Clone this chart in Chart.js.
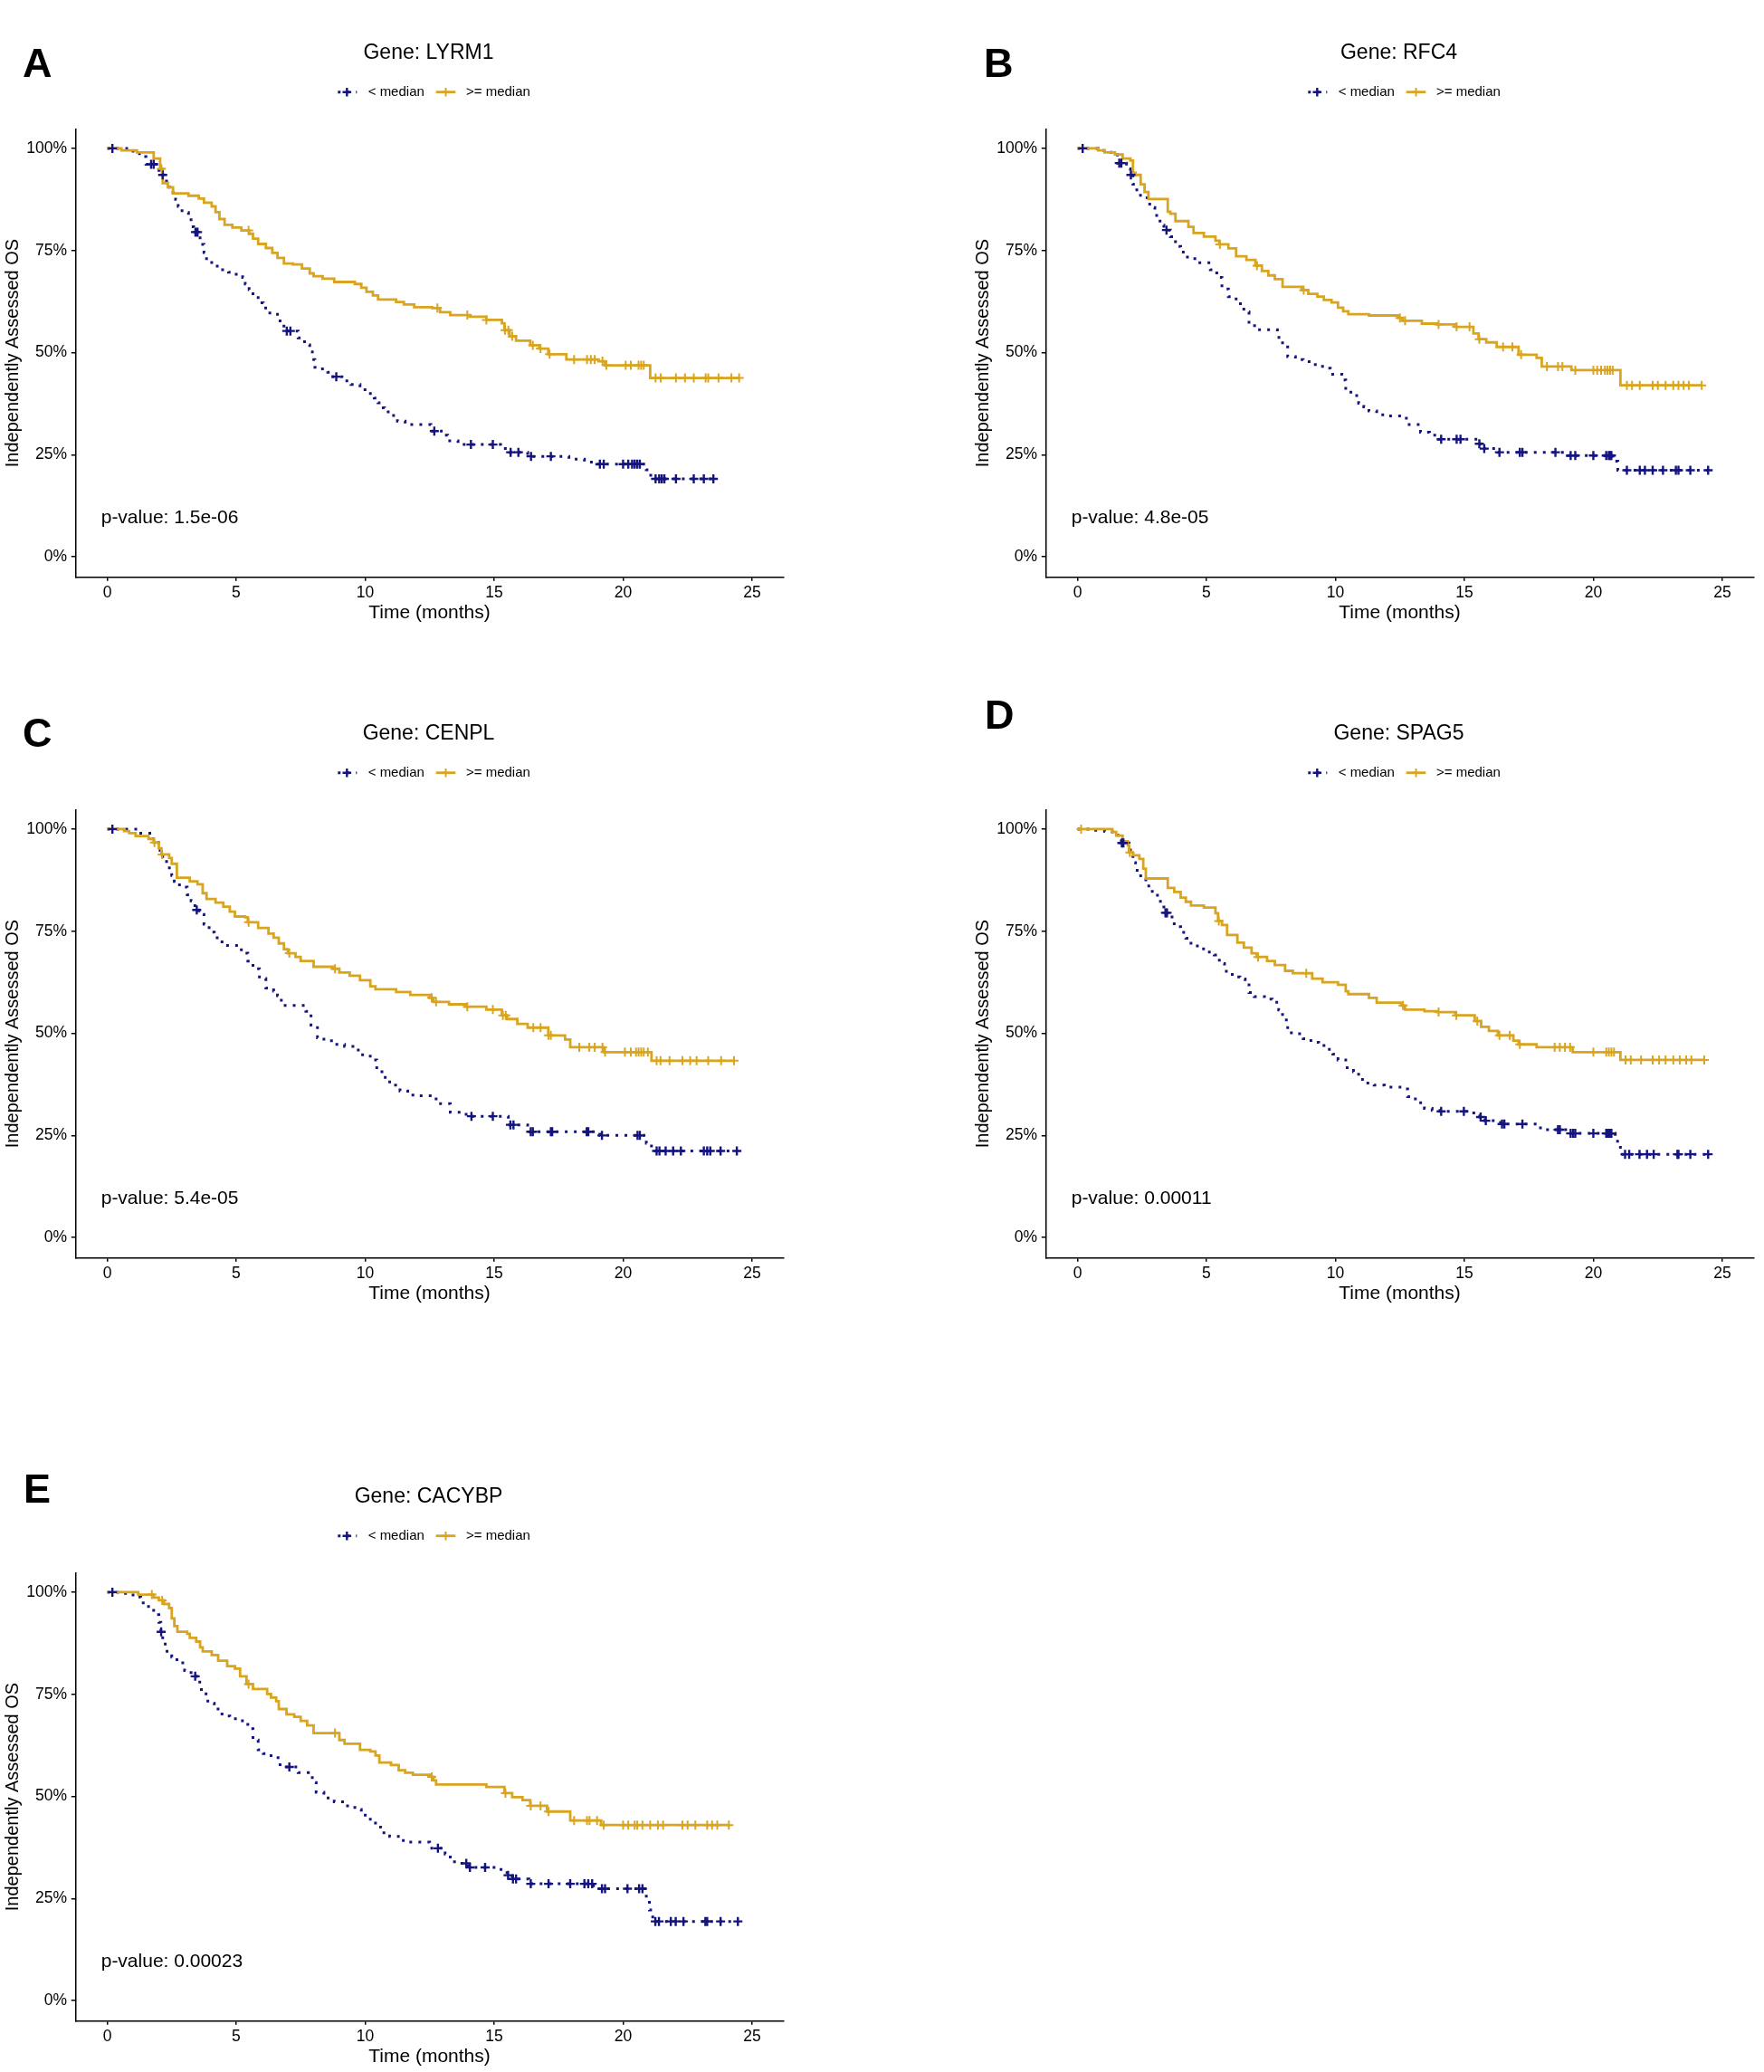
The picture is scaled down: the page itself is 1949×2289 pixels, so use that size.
<!DOCTYPE html>
<html>
<head>
<meta charset="utf-8">
<script src="https://cdn.jsdelivr.net/npm/chart.js@4.4.1/dist/chart.umd.min.js"></script>
<style>
  html, body { margin: 0; padding: 0; background: #ffffff; overflow: hidden; }
  #page { position: relative; width: 1949px; height: 2289px; background: #ffffff; }
  #page canvas { position: absolute; }
</style>
</head>
<body>
<div id="page"></div>
<script>
// ---------------- DATA ----------------
const genes = ["LYRM1", "RFC4", "CENPL", "SPAG5", "CACYBP"];
const pValues = ["1.5e-06", "4.8e-05", "5.4e-05", "0.00011", "0.00023"];
const panelLetters = ["A", "B", "C", "D", "E"];
const seriesLabels = ["< median", ">= median"];
const xTicks = [0, 5, 10, 15, 20, 25];
const yTicks = [0, 0.25, 0.5, 0.75, 1];
const xAxisTitle = "Time (months)";
const yAxisTitle = "Independently Assessed OS";

// LYRM1
const lyrm1LowTime = [0,1.0,1.35,1.5,1.95,2.05,2.2,2.3,2.55,2.65,2.75,2.9,3.15,3.25,3.35,3.6,3.75,3.85,4.05,4.35,4.7,5.0,5.25,5.35,5.5,5.65,5.85,6.05,6.25,6.6,6.7,6.85,7.4,7.65,7.85,7.95,8.05,8.2,8.55,8.75,9.1,9.45,9.8,10.1,10.35,10.5,10.6,10.75,11.0,11.25,11.55,12.55,12.95,13.2,13.6,15.25,15.6,16.3,17.9,18.5,19.0,20.9,21.0,21.15];
const lyrm1LowSurv = [1,0.987,0.98,0.961,0.946,0.935,0.92,0.905,0.892,0.875,0.858,0.843,0.83,0.808,0.795,0.765,0.745,0.725,0.712,0.703,0.697,0.692,0.684,0.668,0.654,0.64,0.622,0.609,0.597,0.588,0.569,0.553,0.536,0.519,0.502,0.483,0.464,0.46,0.452,0.441,0.431,0.422,0.409,0.4,0.389,0.377,0.365,0.355,0.346,0.332,0.324,0.308,0.298,0.284,0.275,0.265,0.256,0.246,0.239,0.232,0.227,0.213,0.2,0.191];
const lyrm1LowCensor = [0.2,1.7,1.8,2.15,3.42,3.5,6.96,7.1,8.88,12.68,14.1,14.95,15.64,15.94,16.43,17.2,19.1,19.25,20.0,20.2,20.35,20.45,20.55,20.65,21.26,21.4,21.5,21.6,22.05,22.74,23.13,23.5];
const lyrm1HighTime = [0,0.55,1.15,1.8,2.05,2.15,2.35,2.55,3.15,3.55,3.75,4.05,4.2,4.35,4.55,4.85,5.2,5.5,5.65,5.85,6.15,6.4,6.6,6.85,7.2,7.55,7.85,8.0,8.35,8.8,9.6,9.85,10.05,10.3,10.5,11.2,11.5,11.9,12.6,12.9,13.3,14.05,14.7,15.3,15.4,15.6,15.85,16.4,16.75,17.1,17.8,19.05,19.3,21.05];
const lyrm1HighSurv = [1,0.995,0.99,0.975,0.95,0.915,0.905,0.89,0.884,0.877,0.867,0.858,0.844,0.827,0.813,0.806,0.799,0.791,0.779,0.766,0.756,0.744,0.732,0.718,0.716,0.706,0.694,0.687,0.681,0.673,0.668,0.659,0.649,0.64,0.63,0.624,0.618,0.611,0.609,0.599,0.592,0.588,0.58,0.572,0.555,0.54,0.529,0.518,0.51,0.496,0.483,0.479,0.469,0.438];
const lyrm1HighCensor = [2.1,5.48,12.8,13.96,14.7,15.42,15.55,15.7,16.5,16.8,17.15,18.1,18.6,18.75,18.9,19.2,19.35,20.1,20.3,20.6,20.7,20.8,21.26,21.46,22.05,22.4,22.74,23.2,23.3,23.7,24.2,24.5];

// RFC4
const rfc4LowTime = [0,0.8,1.3,1.55,1.9,2.05,2.15,2.3,2.5,2.8,3.0,3.2,3.35,3.6,3.8,4.0,4.2,4.55,5.15,5.4,5.6,5.85,6.15,6.45,6.65,6.95,7.75,7.95,8.15,8.45,8.75,9.15,9.5,9.8,10.25,10.4,10.6,10.9,11.1,11.3,11.6,11.9,12.75,13.3,13.65,14.0,15.5,15.7,16.3,19.0,20.75,20.95];
const rfc4LowSurv = [1,0.995,0.985,0.964,0.95,0.935,0.912,0.885,0.879,0.855,0.836,0.812,0.8,0.784,0.76,0.746,0.734,0.72,0.703,0.684,0.656,0.637,0.62,0.6,0.566,0.556,0.537,0.514,0.49,0.483,0.478,0.471,0.462,0.447,0.433,0.409,0.395,0.376,0.367,0.357,0.348,0.345,0.324,0.305,0.298,0.288,0.277,0.265,0.256,0.248,0.234,0.212];
const rfc4LowCensor = [0.2,1.62,1.7,2.07,3.45,14.1,14.7,14.85,15.58,15.77,16.36,17.15,17.25,18.53,19.12,19.3,20.0,20.5,20.6,20.65,20.7,21.3,21.8,22.0,22.3,22.7,23.2,23.3,23.76,24.45];
const rfc4HighTime = [0,0.8,1.05,1.45,1.75,2.05,2.15,2.25,2.45,2.6,2.75,3.5,3.6,3.8,4.3,4.5,4.9,5.35,5.5,5.85,6.15,6.55,6.9,7.15,7.4,7.65,7.95,8.7,8.95,9.3,9.55,9.85,10.1,10.3,10.5,11.3,12.45,12.6,13.35,13.95,14.65,15.35,15.55,15.85,16.25,17.1,17.8,18.0,19.15,21.05];
const rfc4HighSurv = [1,0.995,0.99,0.985,0.975,0.97,0.94,0.935,0.912,0.893,0.876,0.845,0.84,0.822,0.808,0.793,0.784,0.774,0.765,0.755,0.736,0.727,0.713,0.7,0.689,0.68,0.661,0.653,0.644,0.637,0.629,0.623,0.61,0.601,0.594,0.591,0.585,0.578,0.571,0.569,0.563,0.547,0.533,0.525,0.514,0.495,0.487,0.466,0.457,0.42];
const rfc4HighCensor = [5.52,6.96,8.77,12.5,12.7,14.0,14.7,15.2,15.58,16.5,16.86,17.2,18.2,18.63,18.8,19.3,20.0,20.15,20.3,20.45,20.55,20.65,20.75,21.3,21.5,21.8,22.3,22.5,22.8,23.1,23.3,23.5,23.7,24.2];

// CENPL
const cenplLowTime = [0,1.2,1.65,1.85,2.05,2.15,2.3,2.5,2.6,2.8,3.1,3.25,3.4,3.55,3.75,3.95,4.15,4.45,5.2,5.45,5.65,5.9,6.15,6.45,6.6,6.75,7.7,7.9,8.15,8.4,8.8,9.2,9.6,9.9,10.3,10.45,10.65,10.95,11.35,11.65,12.05,12.75,13.3,13.7,14.0,15.55,16.3,19.1,20.9,21.1];
const cenplLowSurv = [1,0.99,0.976,0.967,0.948,0.929,0.905,0.886,0.872,0.858,0.839,0.824,0.802,0.791,0.767,0.748,0.734,0.715,0.696,0.677,0.658,0.634,0.611,0.603,0.592,0.568,0.554,0.52,0.489,0.482,0.473,0.468,0.459,0.444,0.435,0.411,0.392,0.373,0.359,0.349,0.347,0.328,0.307,0.302,0.297,0.276,0.259,0.25,0.231,0.212];
const cenplLowCensor = [0.2,3.47,14.12,14.95,15.63,15.75,16.42,16.5,17.2,17.25,18.59,18.65,19.18,20.56,20.65,21.3,21.41,21.65,21.94,22.24,23.13,23.26,23.38,23.78,24.41];
const cenplHighTime = [0,0.65,0.85,1.1,1.6,1.8,2.0,2.1,2.4,2.5,2.7,3.2,3.5,3.7,3.85,4.2,4.5,4.75,4.95,5.35,5.45,5.85,6.25,6.45,6.65,6.85,7.0,7.3,7.5,8.0,8.75,9.0,9.4,9.8,10.2,10.4,11.2,11.75,12.5,12.65,13.25,13.9,14.7,15.3,15.5,15.9,16.3,17.1,17.75,17.95,19.25,21.1];
const cenplHighSurv = [1,0.995,0.99,0.983,0.976,0.967,0.953,0.938,0.929,0.915,0.881,0.872,0.865,0.843,0.829,0.82,0.81,0.798,0.786,0.784,0.772,0.758,0.744,0.734,0.72,0.706,0.696,0.687,0.677,0.663,0.658,0.649,0.641,0.63,0.615,0.608,0.601,0.594,0.587,0.577,0.571,0.565,0.558,0.544,0.535,0.523,0.514,0.495,0.485,0.466,0.454,0.433];
const cenplHighCensor = [1.83,2.13,5.48,7.06,8.83,12.58,12.75,13.96,14.95,15.34,15.45,16.52,16.8,17.11,17.2,18.3,18.69,18.9,19.2,19.3,20.07,20.3,20.5,20.6,20.7,20.8,20.96,21.3,21.45,21.8,22.3,22.6,22.85,23.3,23.8,24.3];

// SPAG5
const spag5LowTime = [0,0.65,1.05,1.35,1.7,2.0,2.15,2.25,2.45,2.65,2.9,3.1,3.35,3.55,3.75,4.0,4.2,4.4,4.7,5.0,5.3,5.5,5.7,6.0,6.3,6.5,6.65,6.85,7.25,7.55,7.8,7.95,8.15,8.55,8.75,9.05,9.35,9.65,9.9,10.1,10.4,10.7,10.9,11.2,11.5,11.9,12.6,12.8,13.1,13.45,13.75,14.05,15.15,15.6,15.8,16.4,17.95,19.05,20.85,21.05];
const spag5LowSurv = [1,0.997,0.994,0.985,0.966,0.949,0.918,0.899,0.876,0.861,0.842,0.823,0.795,0.785,0.761,0.747,0.733,0.714,0.707,0.699,0.692,0.671,0.652,0.638,0.633,0.625,0.6,0.59,0.584,0.576,0.557,0.533,0.501,0.499,0.487,0.478,0.47,0.461,0.449,0.435,0.416,0.406,0.387,0.378,0.373,0.368,0.364,0.345,0.33,0.316,0.311,0.309,0.305,0.295,0.286,0.278,0.264,0.255,0.236,0.204];
const spag5LowCensor = [1.72,1.78,3.41,3.47,14.1,14.98,15.63,15.83,16.46,16.55,17.25,18.63,18.7,19.12,19.22,19.3,20.0,20.5,20.55,20.6,20.65,20.7,21.23,21.39,21.79,22.08,22.34,23.26,23.3,23.76,24.45];
const spag5HighTime = [0,1.35,1.5,1.75,1.95,2.0,2.15,2.4,2.55,2.65,3.5,3.75,4.0,4.2,4.4,4.9,5.35,5.45,5.6,5.8,6.2,6.45,6.75,6.95,7.35,7.65,8.05,8.35,9.1,9.5,10.1,10.4,10.5,11.3,11.6,12.55,12.7,13.45,13.95,14.65,15.4,15.65,15.95,16.3,16.9,17.1,17.8,19.2,21.05];
const spag5HighSurv = [1,0.993,0.984,0.97,0.96,0.943,0.936,0.927,0.903,0.879,0.856,0.846,0.832,0.822,0.813,0.808,0.794,0.775,0.765,0.741,0.722,0.71,0.696,0.687,0.677,0.667,0.653,0.647,0.634,0.625,0.619,0.603,0.596,0.587,0.575,0.568,0.558,0.554,0.552,0.544,0.53,0.516,0.506,0.495,0.482,0.473,0.466,0.454,0.435];
const spag5HighCensor = [0.14,2.03,5.48,7.0,8.87,12.62,14.0,14.69,15.5,16.36,16.76,17.15,18.5,18.7,18.9,19.1,20.0,20.5,20.6,20.7,20.8,21.25,21.45,21.85,22.3,22.55,22.8,23.1,23.35,23.6,23.8,24.3];

// CACYBP
const cacybpLowTime = [0,0.6,1.0,1.3,1.6,1.8,2.0,2.08,2.15,2.25,2.5,2.7,3.0,3.25,3.45,3.65,3.9,4.15,4.45,4.75,5.05,5.45,5.65,5.85,6.05,6.35,6.7,7.4,7.8,7.95,8.1,8.4,8.8,9.2,9.6,9.85,10.2,10.4,10.6,10.95,11.35,11.65,12.5,13.1,13.3,13.6,14.0,15.2,15.5,15.7,16.35,18.85,20.9,21.02,21.15];
const cacybpLowSurv = [1,0.997,0.988,0.974,0.959,0.945,0.926,0.903,0.879,0.855,0.841,0.827,0.808,0.794,0.78,0.751,0.728,0.714,0.697,0.69,0.685,0.666,0.638,0.614,0.605,0.595,0.572,0.558,0.553,0.534,0.51,0.496,0.487,0.477,0.468,0.454,0.444,0.425,0.411,0.402,0.392,0.388,0.373,0.359,0.34,0.336,0.326,0.321,0.307,0.298,0.286,0.274,0.25,0.222,0.194];
const cacybpLowCensor = [0.2,2.09,3.41,7.06,12.82,13.92,14.06,14.65,15.54,15.73,15.85,16.42,17.11,17.95,18.5,18.65,18.8,19.18,19.3,20.17,20.62,20.75,21.25,21.39,21.85,22.04,22.34,23.19,23.26,23.78,24.45];
const cacybpHighTime = [0,1.2,1.8,2.0,2.2,2.4,2.5,2.6,2.72,3.1,3.2,3.45,3.6,3.7,4.05,4.3,4.65,4.95,5.15,5.4,5.65,6.2,6.35,6.55,6.65,6.95,7.25,7.5,7.75,8.0,9.0,9.2,9.8,10.2,10.4,10.55,11.0,11.3,11.55,11.85,12.55,12.65,12.75,14.7,15.4,15.7,16.1,16.4,17.05,17.95,19.15];
const cacybpHighSurv = [1,0.994,0.987,0.98,0.971,0.961,0.936,0.917,0.903,0.898,0.888,0.879,0.865,0.855,0.846,0.832,0.819,0.813,0.794,0.775,0.763,0.751,0.742,0.733,0.714,0.701,0.695,0.685,0.674,0.655,0.638,0.629,0.614,0.61,0.6,0.583,0.577,0.564,0.558,0.553,0.548,0.539,0.529,0.523,0.508,0.498,0.491,0.477,0.463,0.441,0.43];
const cacybpHighCensor = [1.73,2.13,5.48,8.83,12.58,15.44,16.42,16.8,17.11,18.1,18.6,18.7,18.99,19.25,20.0,20.2,20.45,20.55,20.75,21.05,21.35,21.55,22.3,22.5,22.8,23.26,23.45,23.65,24.1];

const panelSeries = [
  { low: [lyrm1LowTime, lyrm1LowSurv, lyrm1LowCensor], high: [lyrm1HighTime, lyrm1HighSurv, lyrm1HighCensor] },
  { low: [rfc4LowTime, rfc4LowSurv, rfc4LowCensor], high: [rfc4HighTime, rfc4HighSurv, rfc4HighCensor] },
  { low: [cenplLowTime, cenplLowSurv, cenplLowCensor], high: [cenplHighTime, cenplHighSurv, cenplHighCensor] },
  { low: [spag5LowTime, spag5LowSurv, spag5LowCensor], high: [spag5HighTime, spag5HighSurv, spag5HighCensor] },
  { low: [cacybpLowTime, cacybpLowSurv, cacybpLowCensor], high: [cacybpHighTime, cacybpHighSurv, cacybpHighCensor] }
];

// ---------------- LAYOUT / STYLE ----------------
const FONT = '"Liberation Sans", Arial, Helvetica, sans-serif';
const LOW_COLOR = '#14147e';
const HIGH_COLOR = '#d9a521';
const CANVAS_W = 877, CANVAS_H = 694;
const panelOrigins = [[0, 0], [1072, 0], [0, 752], [1072, 752], [0, 1595]];
const letterPos = [[25, 85], [15, 85], [25, 73], [16, 53], [26, 65]];
const DOT_DASH = [3, 7];

function survAt(times, surv, t) {
  let s = surv[0];
  for (let i = 0; i < times.length; i++) { if (times[i] <= t) s = surv[i]; }
  return s;
}
function curvePoints(times, surv, censor) {
  const pts = times.map((t, i) => ({ x: t, y: surv[i] }));
  const lastT = Math.max(times[times.length - 1], ...censor);
  if (lastT > times[times.length - 1]) pts.push({ x: lastT, y: surv[surv.length - 1] });
  return pts;
}
function censorPoints(times, surv, censor) {
  return censor.map(c => ({ x: c, y: survAt(times, surv, c) }));
}

function drawCross(ctx, x, y, r, color, w) {
  ctx.save();
  ctx.strokeStyle = color; ctx.lineWidth = w; ctx.setLineDash([]);
  ctx.beginPath();
  ctx.moveTo(x - r, y); ctx.lineTo(x + r, y);
  ctx.moveTo(x, y - r); ctx.lineTo(x, y + r);
  ctx.stroke();
  ctx.restore();
}

const annotPlugin = {
  id: 'annot',
  afterDraw(chart, args, opts) {
    const { ctx, chartArea: a } = chart;
    ctx.save();
    ctx.fillStyle = '#000';
    // panel letter
    ctx.font = 'bold 45px ' + FONT;
    ctx.textAlign = 'left'; ctx.textBaseline = 'alphabetic';
    ctx.fillText(opts.letter, opts.letterX, opts.letterY);
    // title
    ctx.font = '23px ' + FONT;
    ctx.textAlign = 'center';
    ctx.fillText('Gene: ' + opts.gene, (a.left + a.right) / 2 - 1, a.top - 77.7);
    // legend
    const ly = a.top - 41;
    ctx.font = '15px ' + FONT;
    ctx.textAlign = 'left'; ctx.textBaseline = 'middle';
    let x = a.left + 289;
    ctx.save();
    ctx.strokeStyle = LOW_COLOR; ctx.lineWidth = 3; ctx.setLineDash(DOT_DASH); ctx.lineCap = 'butt';
    ctx.beginPath(); ctx.moveTo(x + 1, ly); ctx.lineTo(x + 22, ly); ctx.stroke();
    ctx.restore();
    drawCross(ctx, x + 11, ly, 4.8, LOW_COLOR, 2.4);
    ctx.fillText(seriesLabels[0], x + 34.4, ly + 0.5);
    x = a.left + 398.4;
    ctx.save();
    ctx.strokeStyle = HIGH_COLOR; ctx.lineWidth = 2.8; ctx.setLineDash([]);
    ctx.beginPath(); ctx.moveTo(x, ly); ctx.lineTo(x + 21.6, ly); ctx.stroke();
    ctx.restore();
    drawCross(ctx, x + 10.8, ly, 4.8, HIGH_COLOR, 2);
    ctx.fillStyle = '#000';
    ctx.fillText(seriesLabels[1], x + 33.3, ly + 0.5);
    // p-value
    ctx.font = '21px ' + FONT;
    ctx.textBaseline = 'middle';
    ctx.fillText('p-value: ' + opts.pval, a.left + 28.4, a.bottom - 64.6);
    ctx.restore();
  }
};

const page = document.getElementById('page');
genes.forEach((gene, i) => {
  const [ox, oy] = panelOrigins[i];
  const canvas = document.createElement('canvas');
  canvas.width = CANVAS_W; canvas.height = CANVAS_H;
  canvas.style.left = ox + 'px'; canvas.style.top = oy + 'px';
  canvas.style.width = CANVAS_W + 'px'; canvas.style.height = CANVAS_H + 'px';
  page.appendChild(canvas);
  const s = panelSeries[i];
  const [lt, ls, lc] = s.low, [ht, hs, hc] = s.high;
  const tickFont = { family: FONT, size: 17.5 };
  new Chart(canvas, {
    type: 'line',
    data: {
      datasets: [
        { label: seriesLabels[1] + ' censor', type: 'scatter', data: censorPoints(ht, hs, hc), showLine: false,
          pointStyle: 'cross', pointRadius: 5, pointBorderWidth: 2, pointBorderColor: HIGH_COLOR, borderColor: HIGH_COLOR, backgroundColor: HIGH_COLOR, clip: false },
        { label: seriesLabels[0] + ' censor', type: 'scatter', data: censorPoints(lt, ls, lc), showLine: false,
          pointStyle: 'cross', pointRadius: 5, pointBorderWidth: 2.4, pointBorderColor: LOW_COLOR, borderColor: LOW_COLOR, backgroundColor: LOW_COLOR, clip: false },
        { label: seriesLabels[1], data: curvePoints(ht, hs, hc), stepped: 'before', borderColor: HIGH_COLOR, borderWidth: 2.8,
          pointRadius: 0, fill: false, tension: 0 },
        { label: seriesLabels[0], data: curvePoints(lt, ls, lc), stepped: 'before', borderColor: LOW_COLOR, borderWidth: 3,
          borderDash: DOT_DASH, borderCapStyle: 'butt', pointRadius: 0, fill: false, tension: 0 }
      ]
    },
    options: {
      responsive: false,
      animation: false,
      devicePixelRatio: 1,
      layout: { padding: { left: 0, right: 11.3, top: 142.7, bottom: 0 } },
      plugins: {
        legend: { display: false },
        tooltip: { enabled: false },
        annot: { letter: panelLetters[i], letterX: letterPos[i][0], letterY: letterPos[i][1], gene: gene, pval: pValues[i] }
      },
      scales: {
        x: {
          type: 'linear', min: -1.235, max: 26.22,
          afterBuildTicks: (sc) => { sc.ticks = xTicks.map(v => ({ value: v })); },
          afterFit: (sc) => { sc.height = CANVAS_H - 637.3; },
          ticks: { font: tickFont, color: '#000', padding: 3, maxRotation: 0, autoSkip: false },
          grid: { display: true, drawOnChartArea: false, drawTicks: true, tickLength: 4.5, color: '#000', lineWidth: 1.5 },
          border: { display: true, color: '#000', width: 1.5 },
          title: { display: true, text: xAxisTitle, color: '#000', font: { family: FONT, size: 21 }, padding: { top: 0, bottom: 3.9 } }
        },
        y: {
          type: 'linear', min: -0.049, max: 1.047,
          afterBuildTicks: (sc) => { sc.ticks = yTicks.map(v => ({ value: v })); },
          afterFit: (sc) => { sc.width = 83.3; },
          ticks: { font: tickFont, color: '#000', padding: 4.8, callback: (v) => Math.round(v * 100) + '%' },
          grid: { display: true, drawOnChartArea: false, drawTicks: true, tickLength: 4.5, color: '#000', lineWidth: 1.5 },
          border: { display: true, color: '#000', width: 1.5 },
          title: { display: true, text: yAxisTitle, color: '#000', font: { family: FONT, size: 20 }, padding: { top: 2, bottom: 0 } }
        }
      }
    },
    plugins: [annotPlugin]
  });
});
</script>
</body>
</html>
